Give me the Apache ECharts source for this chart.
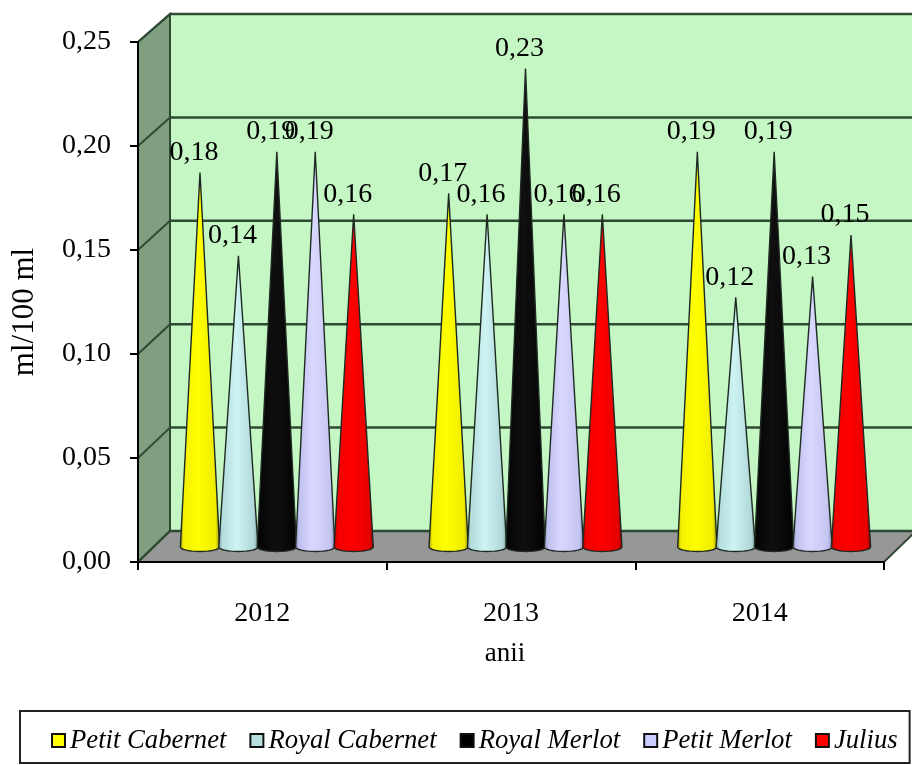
<!DOCTYPE html>
<html><head><meta charset="utf-8">
<script src="https://cdn.jsdelivr.net/npm/echarts@6/dist/echarts.min.js"></script>
<style>html,body{margin:0;padding:0;background:#fff}#c{width:912px;height:765px}</style>
</head><body><div id="c"></div>
<script>
const categories = ['2012', '2013', '2014'];
const yTicks = [0, 0.05, 0.10, 0.15, 0.20, 0.25];
const petitCabernet = [0.18, 0.17, 0.19];
const royalCabernet = [0.14, 0.16, 0.12];
const royalMerlot = [0.19, 0.23, 0.19];
const petitMerlot = [0.19, 0.16, 0.13];
const julius = [0.16, 0.16, 0.15];

const seriesDefs = [
  {name: 'Petit Cabernet', values: petitCabernet, color: '#FFFF00', shades: ['#8f8a00', '#f5f000', '#ffff00', '#f0ec00', '#8f8a00']},
  {name: 'Royal Cabernet', values: royalCabernet, color: '#B8E0E0', shades: ['#6f9090', '#b4dcdc', '#cdf3f3', '#b0d8d8', '#6f9090']},
  {name: 'Royal Merlot', values: royalMerlot, color: '#000000', shades: ['#000', '#050505', '#101010', '#050505', '#000']},
  {name: 'Petit Merlot', values: petitMerlot, color: '#CCCCFF', shades: ['#7c7ca8', '#c0c0f0', '#d8d8ff', '#c4c4f0', '#7c7ca8']},
  {name: 'Julius', values: julius, color: '#FF0000', shades: ['#8a0000', '#f00000', '#ff0000', '#e80000', '#8a0000']}
];

const FONT = '"Liberation Serif","Times New Roman",serif';
const DEPTH_X = 32, DEPTH_Y = -31, BACK_SHRINK = 3;

function renderWalls(params, api) {
  const r = params.coordSys;
  const l = r.x, b = r.y + r.height, rt = r.x + r.width, t = r.y;
  const backY = v => b + DEPTH_Y - (r.height - BACK_SHRINK) * v / yTicks[yTicks.length - 1];
  const top = backY(yTicks[yTicks.length - 1]), bot = backY(0);
  const poly = (pts, fill) => ({type: 'polygon', shape: {points: pts}, style: {fill, stroke: '#2f4a33', lineWidth: 2}});
  const back = poly([[l + DEPTH_X, top], [916, top], [916, bot], [l + DEPTH_X, bot]], '#C4F7C4');
  const side = poly([[l, t], [l + DEPTH_X, top], [l + DEPTH_X, bot], [l, b]], '#7F9F80');
  const floor = poly([[l, b], [l + DEPTH_X, bot], [rt + DEPTH_X, bot], [rt, b]], '#979797');
  const children = [back, side, floor];
  yTicks.forEach(v => {
    const y = api.coord([0, v])[1];
    children.push({type: 'line', shape: {x1: l, y1: y, x2: l + DEPTH_X, y2: backY(v)}, style: {stroke: '#2f4a33', lineWidth: 2}});
    children.push({type: 'line', shape: {x1: l + DEPTH_X, y1: backY(v), x2: 916, y2: backY(v)}, style: {stroke: '#2f4a33', lineWidth: 2.5}});
  });
  return {type: 'group', children};
}

function coneRenderer(def, si) {
  return function (params, api) {
    const idx = api.value(0), v = api.value(1);
    const band = api.size([1, 0])[0];
    const step = band * 0.1545;
    const base = api.coord([idx, 0]);
    const tip = api.coord([idx, v]);
    const cx = base[0] + (si - 2) * step;
    const hw = band * 0.079, ry = 4.5;
    const pts = [[cx, tip[1]]];
    for (let k = 0; k <= 16; k++) {
      const a = Math.PI * k / 16;
      pts.push([cx + hw * Math.cos(a), base[1] + ry * Math.sin(a)]);
    }
    const s = def.shades;
    return {type: 'group', children: [
      {type: 'polygon', shape: {points: pts}, style: {
        fill: {type: 'linear', x: 0, y: 0, x2: 1, y2: 0, colorStops: [
          {offset: 0, color: s[0]}, {offset: 0.1, color: s[1]}, {offset: 0.45, color: s[2]}, {offset: 0.88, color: s[3]}, {offset: 1, color: s[4]}
        ]},
        stroke: '#1f2a22', lineWidth: 1.4
      }},
      {type: 'text', z2: 100, style: {
        text: api.value(1).toFixed(2).replace('.', ','), x: cx - 6, y: tip[1] - 6,
        align: 'center', verticalAlign: 'bottom', fill: '#000', font: '28px ' + FONT
      }}
    ]};
  };
}

const series = [{
  type: 'custom', name: '_walls', xAxisIndex: 0, yAxisIndex: 0, clip: false, silent: true, z: 1,
  data: [[0, 0]], renderItem: renderWalls
}];
seriesDefs.forEach((d, i) => series.push({
  type: 'custom', name: d.name, xAxisIndex: 1, yAxisIndex: 1, clip: false, z: 2,
  itemStyle: {color: d.color},
  encode: {x: 0, y: 1},
  data: categories.map((c, k) => [k, d.values[k]]),
  renderItem: coneRenderer(d, i)
}));

const chart = echarts.init(document.getElementById('c'));
chart.setOption({
  animation: false,
  backgroundColor: '#fff',
  textStyle: {fontFamily: FONT},
  grid: [
    {left: 138, top: 42, width: 746, height: 520},
    {left: 152.5, top: 27, width: 746, height: 520}
  ],
  xAxis: [
    {type: 'category', gridIndex: 0, data: categories, boundaryGap: true, z: 5,
     name: 'anii', nameLocation: 'middle', nameGap: 78,
     nameTextStyle: {fontSize: 27, color: '#000', fontFamily: FONT, padding: [0, 12, 0, 0]},
     axisLine: {lineStyle: {color: '#000', width: 2}},
     axisTick: {show: true, length: 8, alignWithLabel: false, lineStyle: {color: '#000', width: 2}},
     axisLabel: {fontSize: 28, color: '#000', margin: 38, fontFamily: FONT}},
    {type: 'category', gridIndex: 1, data: categories, show: false}
  ],
  yAxis: [
    {type: 'value', gridIndex: 0, min: 0, max: 0.25, interval: 0.05, z: 5,
     name: 'ml/100 ml', nameLocation: 'middle', nameGap: 98, nameRotate: 90,
     nameTextStyle: {fontSize: 31, color: '#000', fontFamily: FONT, padding: [0, 20, 0, 0]},
     axisLine: {show: true, lineStyle: {color: '#000', width: 2}},
     axisTick: {show: true, length: 8, lineStyle: {color: '#000', width: 2}},
     splitLine: {show: false},
     axisLabel: {fontSize: 28, color: '#000', margin: 27, fontFamily: FONT,
       formatter: v => v.toFixed(2).replace('.', ',')}},
    {type: 'value', gridIndex: 1, min: 0, max: 0.25, interval: 0.05, show: false}
  ],
  legend: {
    left: 20, top: 711, width: 895, orient: 'horizontal',
    data: seriesDefs.map(d => ({name: d.name, icon: 'rect', itemStyle: {color: d.color, borderColor: '#111', borderWidth: 2}})),
    itemWidth: 13, itemHeight: 13, itemGap: 23,
    padding: [16, 12, 9, 31],
    borderColor: '#222', borderWidth: 2, backgroundColor: '#fff',
    selectedMode: false,
    textStyle: {fontSize: 26.7, fontStyle: 'italic', color: '#000', fontFamily: FONT}
  },
  series
});
</script></body></html>
